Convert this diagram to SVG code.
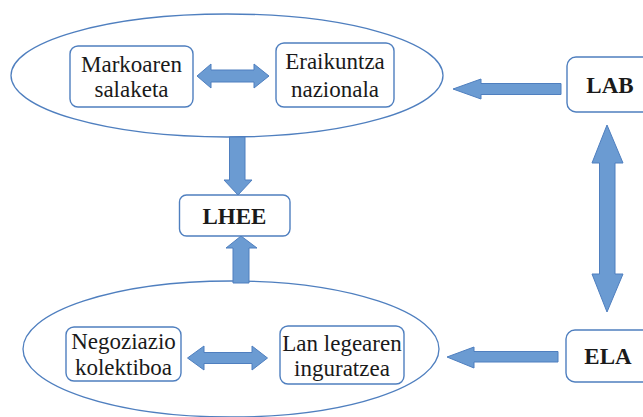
<svg xmlns="http://www.w3.org/2000/svg" width="643" height="417" viewBox="0 0 643 417">
<style>
.ell{fill:none;stroke:#4f7fbf;stroke-width:1.3}
.box{fill:#fff;stroke:#4f7fbf;stroke-width:1.4}
.arr{fill:#6b9bd2;stroke:#4f7fbf;stroke-width:1}
</style>
<rect width="643" height="417" fill="#fff"/>
<g id="ellipse-top"><ellipse class="ell" cx="227" cy="75.5" rx="216" ry="61.5"/></g>
<g id="ellipse-bottom"><ellipse class="ell" cx="231" cy="349" rx="208" ry="68"/></g>
<g id="connectors">
<polygon class="arr" points="197,76 211,64 211,70 254,70 254,64 269,76 254,88 254,82 211,82 211,88"/>
<polygon class="arr" points="187.5,358 204,346 204,352.5 252,352.5 252,346 267.5,358 252,370 252,363.5 204,363.5 204,370"/>
<polygon class="arr" points="229.5,137 245,137 245,180 252,180 238,195 224,180 229.5,180"/>
<polygon class="arr" points="241,236 257,248 249,248 249,283 233,283 233,248 226,248"/>
<polygon class="arr" points="453,89 481,79 481,83.5 561,83.5 561,94.5 481,94.5 481,99"/>
<polygon class="arr" points="447,357 474,347 474,351.5 558,351.5 558,362 474,362 474,368"/>
<polygon class="arr" points="607,125 623,163 615,163 615,274 623,274 607,312 592,274 599.5,274 599.5,163 592,163"/>
</g>
<g font-family="Liberation Serif" font-size="23" fill="#1a1a1a" text-anchor="middle">
<g id="markoaren">
<rect class="box" x="70" y="46" width="123" height="61" rx="8"/>
<text x="131.5" y="72">Markoaren</text>
<text x="131.5" y="97">salaketa</text>
</g>
<g id="eraikuntza">
<rect class="box" x="276" y="43" width="118" height="64" rx="8"/>
<text x="335" y="69">Eraikuntza</text>
<text x="335" y="97">nazionala</text>
</g>
<g id="lhee">
<rect class="box" x="179.5" y="195" width="110.5" height="41" rx="7"/>
<text font-weight="bold" x="234.5" y="224">LHEE</text>
</g>
<g id="negoziazio">
<rect class="box" x="66" y="327" width="115" height="54" rx="8"/>
<text x="123.5" y="349">Negoziazio</text>
<text x="123.5" y="375">kolektiboa</text>
</g>
<g id="lan">
<rect class="box" x="280" y="326" width="124" height="58" rx="8"/>
<text x="342" y="351">Lan legearen</text>
<text x="342" y="376">inguratzea</text>
</g>
<g id="lab">
<rect class="box" x="567" y="57" width="90" height="55" rx="9"/>
<text font-weight="bold" x="610" y="93">LAB</text>
</g>
<g id="ela">
<rect class="box" x="566" y="330" width="90" height="52" rx="9"/>
<text font-weight="bold" x="608" y="364">ELA</text>
</g>
</g>
</svg>
